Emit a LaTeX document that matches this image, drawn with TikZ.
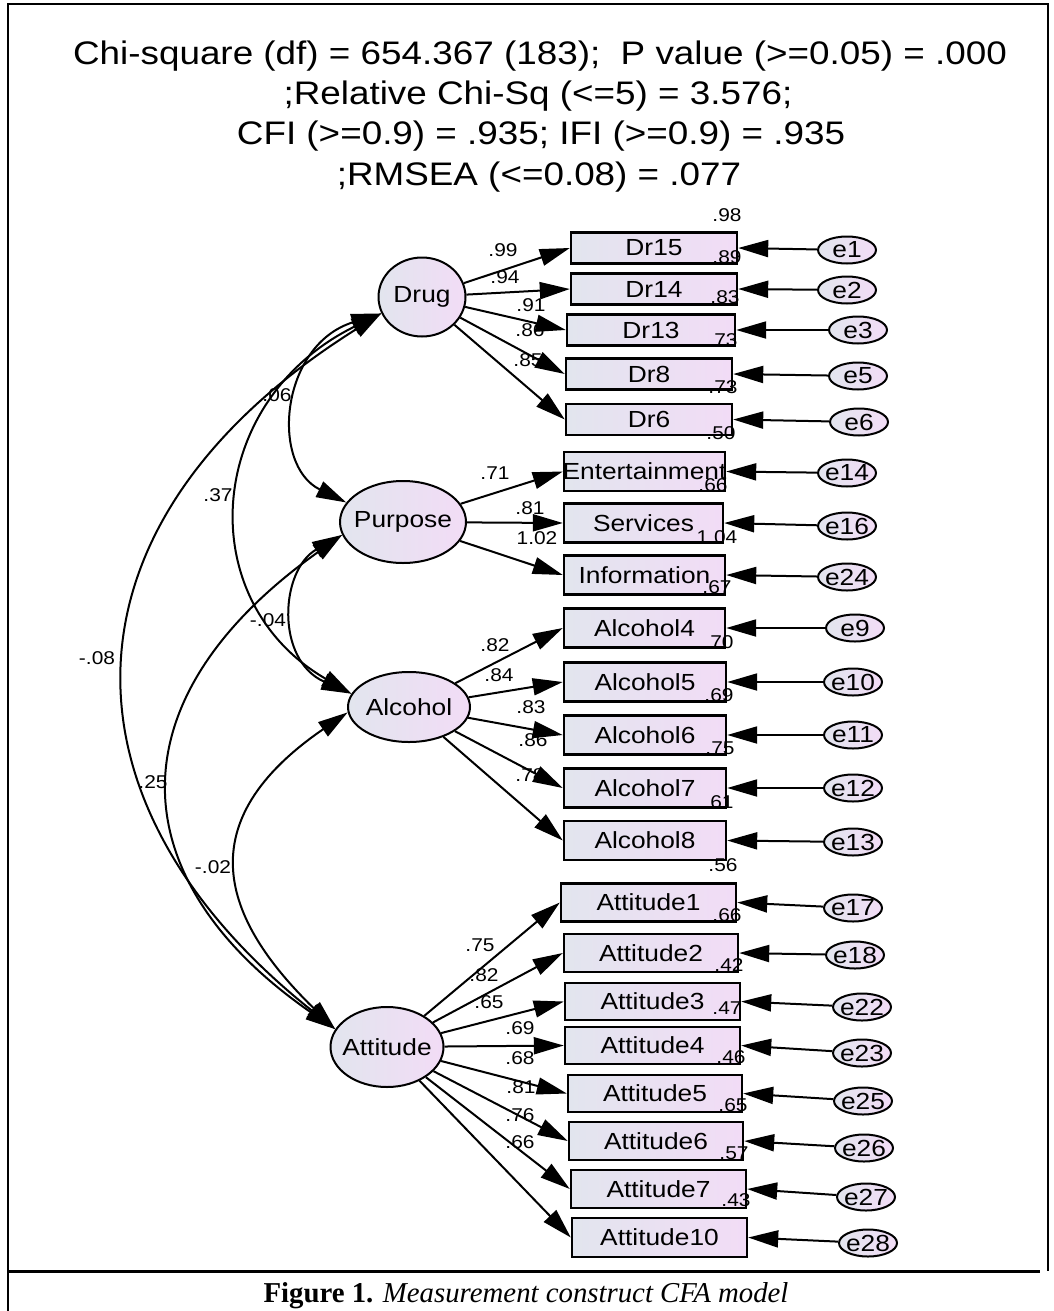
\documentclass[tikz,border=0pt]{standalone}
\usepackage{fontspec}
\setmainfont{Liberation Serif}
\setsansfont{Liberation Sans}
\usepackage{graphicx}
\usetikzlibrary{arrows.meta,shapes.geometric}
\definecolor{fillL}{RGB}{226,229,238}
\definecolor{fillR}{RGB}{242,220,246}
\newcommand{\sx}[1]{\makebox[0pt]{\scalebox{1.13}[1]{#1}}}
\begin{document}
\begin{tikzpicture}[x=1pt,y=-1pt,
  nodefont/.style={font=\sffamily\fontsize{23.3}{24}\selectfont},
  lat/.style={ellipse, draw, line width=2pt, left color=fillL, right color=fillR, inner sep=0pt, nodefont},
  obs/.style={rectangle, draw, line width=2.4pt, left color=fillL, right color=fillR, inner sep=0pt, nodefont, minimum width=166pt, minimum height=31pt},
  err/.style={ellipse, draw, line width=2pt, left color=fillL, right color=fillR, inner sep=0pt, nodefont, minimum width=58pt, minimum height=27pt},
  lab/.style={inner sep=0pt, font=\sffamily\fontsize{18.5}{19}\selectfont},
  pth/.style={line width=2pt, -{Triangle[length=30pt,width=17pt]}},
  cov/.style={line width=2pt, {Triangle[length=30pt,width=17pt]}-{Triangle[length=30pt,width=17pt]}},
  frame/.style={line width=2pt},
]
\useasboundingbox (0,0) rectangle (1053,1311);
% frame
\draw[frame] (8,1311) -- (8,4) -- (1048,4) -- (1048,1271);
\draw[line width=3pt] (8,1271) -- (1040,1271);
% title
\begin{scope}[every node/.style={inner sep=0pt, anchor=base, font=\sffamily\fontsize{32.6}{34}\selectfont}]
\node (t1) at (540,65) {\sx{Chi-square (df) = 654.367 (183);~ P value (>=0.05) = .000}};
\node (t2) at (538,105) {\sx{;Relative Chi-Sq (<=5) = 3.576;}};
\node (t3) at (541,144) {\sx{CFI (>=0.9) = .935; IFI (>=0.9) = .935}};
\node (t4) at (539,185) {\sx{;RMSEA (<=0.08) = .077}};
\end{scope}
% caption
\node[inner sep=0pt, anchor=base, font=\fontsize{28.8}{30}\selectfont] (cap) at (526,1302) {\textbf{Figure 1.} \textit{Measurement construct CFA model}};
% latent
\node[lat, minimum width=87pt, minimum height=79pt] (Drug) at (422,297) {\sx{Drug}};
\node[lat, minimum width=126pt, minimum height=82pt] (Purpose) at (403,522) {\sx{Purpose}};
\node[lat, minimum width=122pt, minimum height=70pt] (Alcohol) at (409,707) {\sx{Alcohol}};
\node[lat, minimum width=113pt, minimum height=80pt] (Attitude) at (387,1047) {\sx{Attitude}};
% observed
\node[obs] (Dr15) at (654,248) {\sx{Dr15}};
\node[obs] (Dr14) at (654,289) {\sx{Dr14}};
\node[obs, minimum width=168pt] (Dr13) at (651,330) {\sx{Dr13}};
\node[obs] (Dr8) at (649,374) {\sx{Dr8}};
\node[obs] (Dr6) at (649,419.5) {\sx{Dr6}};
\node[obs, minimum width=161pt, minimum height=39pt] (Ent) at (644.5,471.5) {\sx{Entertainment}};
\node[obs, minimum width=159pt, minimum height=39pt] (Serv) at (643.5,523) {\sx{Services}};
\node[obs, minimum width=161pt, minimum height=39pt] (Info) at (644.5,575) {\sx{Information}};
\node[obs, minimum width=161pt, minimum height=39pt] (Al4) at (644.5,628) {\sx{Alcohol4}};
\node[obs, minimum width=162pt, minimum height=39pt] (Al5) at (645,682) {\sx{Alcohol5}};
\node[obs, minimum width=162pt, minimum height=39pt] (Al6) at (645,735) {\sx{Alcohol6}};
\node[obs, minimum width=162pt, minimum height=39pt] (Al7) at (645,788) {\sx{Alcohol7}};
\node[obs, minimum width=162pt, minimum height=39pt] (Al8) at (645,840.5) {\sx{Alcohol8}};
\node[obs, minimum width=175pt, minimum height=38pt] (At1) at (648.5,902.5) {\sx{Attitude1}};
\node[obs, minimum width=174pt, minimum height=38pt] (At2) at (651,953) {\sx{Attitude2}};
\node[obs, minimum width=175pt, minimum height=37pt] (At3) at (652.5,1001.5) {\sx{Attitude3}};
\node[obs, minimum width=175pt, minimum height=37pt] (At4) at (652.5,1045.5) {\sx{Attitude4}};
\node[obs, minimum width=174pt, minimum height=37pt] (At5) at (655,1093.5) {\sx{Attitude5}};
\node[obs, minimum width=174pt, minimum height=38pt] (At6) at (656,1141) {\sx{Attitude6}};
\node[obs, minimum width=175pt, minimum height=38pt] (At7) at (658.5,1189) {\sx{Attitude7}};
\node[obs, minimum width=175pt, minimum height=39pt] (At10) at (659.5,1237.5) {\sx{Attitude10}};
% errors
\node[err] (e1) at (847,250) {\sx{e1}};
\node[err] (e2) at (847,290) {\sx{e2}};
\node[err] (e3) at (858,330) {\sx{e3}};
\node[err] (e5) at (858,376) {\sx{e5}};
\node[err] (e6) at (859,422) {\sx{e6}};
\node[err] (e14) at (847,473) {\sx{e14}};
\node[err] (e16) at (847,526) {\sx{e16}};
\node[err] (e24) at (847,577) {\sx{e24}};
\node[err] (e9) at (855,628) {\sx{e9}};
\node[err] (e10) at (853,682) {\sx{e10}};
\node[err] (e11) at (853,735) {\sx{e11}};
\node[err] (e12) at (853,788) {\sx{e12}};
\node[err] (e13) at (853,842) {\sx{e13}};
\node[err] (e17) at (853,908) {\sx{e17}};
\node[err] (e18) at (855,955) {\sx{e18}};
\node[err] (e22) at (862,1007) {\sx{e22}};
\node[err] (e23) at (862,1053) {\sx{e23}};
\node[err] (e25) at (863,1101) {\sx{e25}};
\node[err] (e26) at (864,1148) {\sx{e26}};
\node[err] (e27) at (866,1197) {\sx{e27}};
\node[err] (e28) at (868,1243) {\sx{e28}};
% loadings
\foreach \b in {Dr15,Dr14,Dr13,Dr8,Dr6} \draw[pth] (Drug) -- (\b.west);
\foreach \b in {Ent,Serv,Info} \draw[pth] (Purpose) -- (\b.west);
\foreach \b in {Al4,Al5,Al6,Al7,Al8} \draw[pth] (Alcohol) -- (\b.west);
\foreach \b in {At1,At2,At3,At4,At5,At6,At7,At10} \draw[pth] (Attitude) -- (\b.west);
% errors
\foreach \e/\b in {e1/Dr15,e2/Dr14,e3/Dr13,e5/Dr8,e6/Dr6,e14/Ent,e16/Serv,e24/Info,e9/Al4,e10/Al5,e11/Al6,e12/Al7,e13/Al8,e17/At1,e18/At2,e22/At3,e23/At4,e25/At5,e26/At6,e27/At7,e28/At10}
  \draw[pth] (\e) -- (\b.east);
% covariances
\draw[cov] (Drug.202) .. controls (280,345) and (270,465) .. (Purpose.161);
\draw[cov] (Drug.202) .. controls (205,400) and (190,600) .. (Alcohol.167);
\draw[cov] (Drug.202) .. controls (52,520) and (47,800) .. (Attitude.161);
\draw[cov] (Purpose.192) .. controls (280,570) and (275,660) .. (Alcohol.167);
\draw[cov] (Purpose.192) .. controls (110,700) and (120,880) .. (Attitude.161);
\draw[cov] (Alcohol.185) .. controls (188,822) and (221,918) .. (Attitude.161);
% covariance labels
\node[lab] (c1) at (277,395) {\sx{.06}};
\node[lab] (c2) at (218,495) {\sx{.37}};
\node[lab] (c3) at (97,658) {\sx{-.08}};
\node[lab] (c4) at (268,620) {\sx{-.04}};
\node[lab] (c5) at (153,782) {\sx{.25}};
\node[lab] (c6) at (213,867) {\sx{-.02}};
% loading labels
\node[lab] (l1) at (503,250) {\sx{.99}};
\node[lab] (l2) at (505,277) {\sx{.94}};
\node[lab] (l3) at (531,305) {\sx{.91}};
\node[lab] (l4) at (530,330) {\sx{.86}};
\node[lab] (l5) at (528,360) {\sx{.85}};
\node[lab] (l6) at (495,473) {\sx{.71}};
\node[lab] (l7) at (530,508) {\sx{.81}};
\node[lab] (l8) at (537,538) {\sx{1.02}};
\node[lab] (l9) at (495,645) {\sx{.82}};
\node[lab] (l10) at (499,675) {\sx{.84}};
\node[lab] (l11) at (531,707) {\sx{.83}};
\node[lab] (l12) at (533,740) {\sx{.86}};
\node[lab] (l13) at (530,775) {\sx{.78}};
\node[lab] (l14) at (480,945) {\sx{.75}};
\node[lab] (l15) at (484,975) {\sx{.82}};
\node[lab] (l16) at (489,1002) {\sx{.65}};
\node[lab] (l17) at (520,1028) {\sx{.69}};
\node[lab] (l18) at (520,1058) {\sx{.68}};
\node[lab] (l19) at (521,1087) {\sx{.81}};
\node[lab] (l20) at (520,1115) {\sx{.76}};
\node[lab] (l21) at (520,1142) {\sx{.66}};
% squared multiple correlations
\node[lab] (r1) at (727,215) {\sx{.98}};
\node[lab] (r2) at (727,257) {\sx{.89}};
\node[lab] (r3) at (725,297) {\sx{.83}};
\node[lab] (r4) at (723,340) {\sx{.73}};
\node[lab] (r5) at (723,387) {\sx{.73}};
\node[lab] (r6) at (721,433) {\sx{.50}};
\node[lab] (r7) at (713,485) {\sx{.66}};
\node[lab] (r8) at (717,537) {\sx{1.04}};
\node[lab] (r9) at (717,587) {\sx{.67}};
\node[lab] (r10) at (719,642) {\sx{.70}};
\node[lab] (r11) at (719,695) {\sx{.69}};
\node[lab] (r12) at (720,748) {\sx{.75}};
\node[lab] (r13) at (719,802) {\sx{.61}};
\node[lab] (r14) at (723,865) {\sx{.56}};
\node[lab] (r15) at (727,915) {\sx{.66}};
\node[lab] (r16) at (729,965) {\sx{.42}};
\node[lab] (r17) at (727,1008) {\sx{.47}};
\node[lab] (r18) at (731,1057) {\sx{.46}};
\node[lab] (r19) at (733,1105) {\sx{.65}};
\node[lab] (r20) at (734,1153) {\sx{.57}};
\node[lab] (r21) at (736,1200) {\sx{.43}};
\end{tikzpicture}
\end{document}
